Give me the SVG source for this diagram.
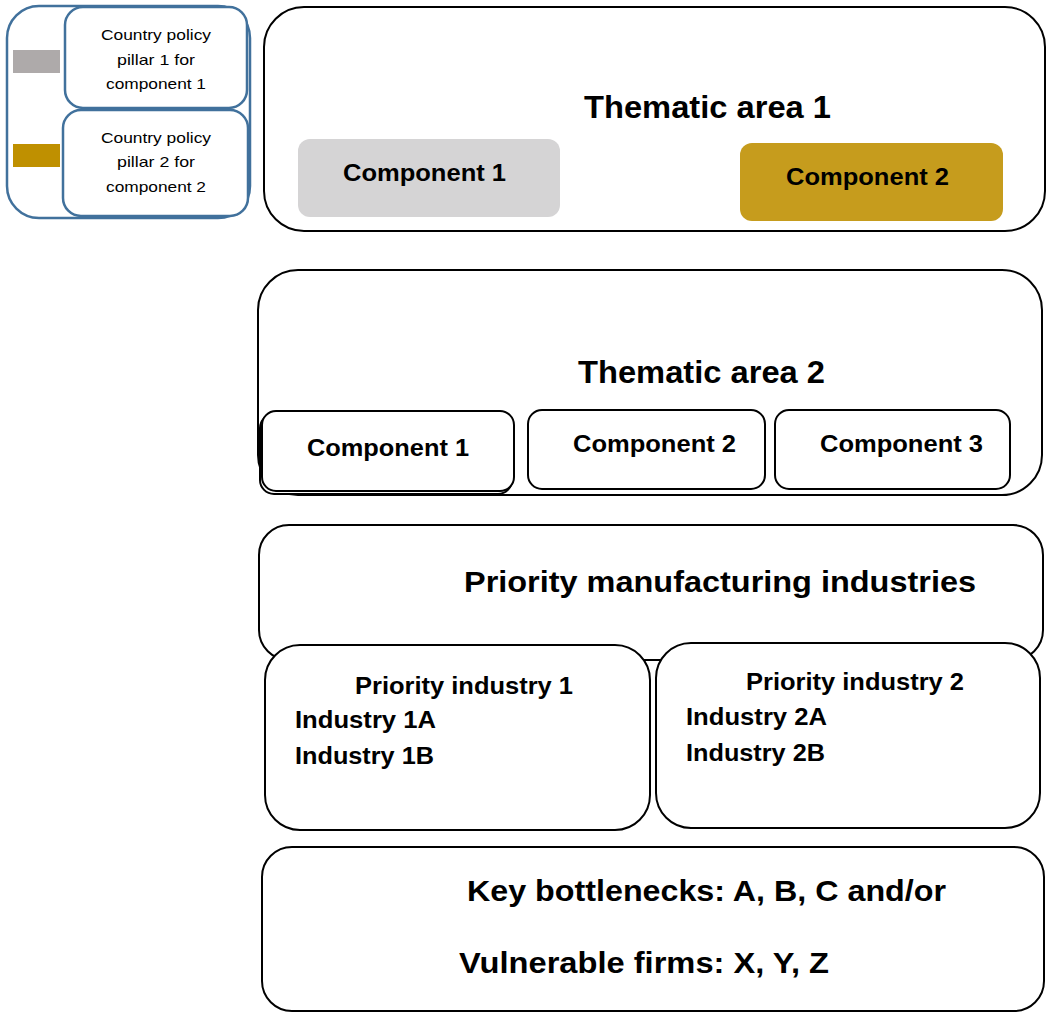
<svg xmlns="http://www.w3.org/2000/svg" width="1047" height="1013" viewBox="0 0 1047 1013">
<style>
.box{fill:#fff;stroke:#000;stroke-width:2}
.lg{fill:#fff;stroke:#41719c;stroke-width:2.5}
.b{font-family:"Liberation Sans",Arial,sans-serif;font-weight:bold;fill:#000}
.r{font-family:"Liberation Sans",Arial,sans-serif;fill:#000;font-size:15px}
</style>
<rect width="1047" height="1013" fill="#fff"/>
<g id="legend">
<rect class="lg" x="7" y="6" width="243" height="212" rx="32"/>
<rect x="13" y="50" width="47" height="23" fill="#aeaaaa"/>
<rect x="13" y="144" width="47" height="23" fill="#bf9000"/>
<rect class="lg" x="65" y="7" width="182" height="101" rx="18"/>
<rect class="lg" x="63" y="110" width="185" height="106" rx="18"/>
<text class="r" x="156" y="40" text-anchor="middle" textLength="110" lengthAdjust="spacingAndGlyphs">Country policy</text>
<text class="r" x="156" y="65" text-anchor="middle" textLength="78" lengthAdjust="spacingAndGlyphs">pillar 1 for</text>
<text class="r" x="156" y="89" text-anchor="middle" textLength="100" lengthAdjust="spacingAndGlyphs">component 1</text>
<text class="r" x="156" y="143" text-anchor="middle" textLength="110" lengthAdjust="spacingAndGlyphs">Country policy</text>
<text class="r" x="156" y="167" text-anchor="middle" textLength="78" lengthAdjust="spacingAndGlyphs">pillar 2 for</text>
<text class="r" x="156" y="192" text-anchor="middle" textLength="100" lengthAdjust="spacingAndGlyphs">component 2</text>
</g>
<g id="thematic1">
<rect class="box" x="264" y="7" width="781" height="224" rx="40"/>
<text class="b" x="584" y="118" font-size="31" textLength="247" lengthAdjust="spacingAndGlyphs">Thematic area 1</text>
</g>
<g id="t1c1">
<rect x="298" y="139" width="262" height="78" rx="12" fill="#d5d4d5"/>
<text class="b" x="343" y="181" font-size="24" textLength="163" lengthAdjust="spacingAndGlyphs">Component 1</text>
</g>
<g id="t1c2">
<rect x="740" y="143" width="263" height="78" rx="12" fill="#c69c1d"/>
<text class="b" x="786" y="185" font-size="24" textLength="163" lengthAdjust="spacingAndGlyphs">Component 2</text>
</g>
<g id="thematic2">
<rect class="box" x="258" y="270" width="784" height="225" rx="40"/>
<text class="b" x="578" y="383" font-size="31" textLength="247" lengthAdjust="spacingAndGlyphs">Thematic area 2</text>
</g>
<g id="t2c1">
<rect class="box" x="260" y="414" width="252" height="80" rx="14"/>
<rect class="box" x="262" y="411" width="252" height="80" rx="14"/>
<text class="b" x="307" y="456" font-size="23" textLength="162" lengthAdjust="spacingAndGlyphs">Component 1</text>
</g>
<g id="t2c2">
<rect class="box" x="528" y="410" width="237" height="79" rx="14"/>
<text class="b" x="573" y="452" font-size="23" textLength="163" lengthAdjust="spacingAndGlyphs">Component 2</text>
</g>
<g id="t2c3">
<rect class="box" x="775" y="410" width="235" height="79" rx="14"/>
<text class="b" x="820" y="452" font-size="23" textLength="163" lengthAdjust="spacingAndGlyphs">Component 3</text>
</g>
<g id="priority">
<rect class="box" x="259" y="525" width="784" height="135" rx="30"/>
<text class="b" x="464" y="592" font-size="30" textLength="512" lengthAdjust="spacingAndGlyphs">Priority manufacturing industries</text>
</g>
<g id="ind1">
<rect class="box" x="265" y="645" width="385" height="185" rx="35"/>
<text class="b" x="355" y="694" font-size="23" textLength="218" lengthAdjust="spacingAndGlyphs">Priority industry 1</text>
<text class="b" x="295" y="728" font-size="23" textLength="141" lengthAdjust="spacingAndGlyphs">Industry 1A</text>
<text class="b" x="295" y="764" font-size="23" textLength="139" lengthAdjust="spacingAndGlyphs">Industry 1B</text>
</g>
<g id="ind2">
<rect class="box" x="656" y="643" width="384" height="185" rx="35"/>
<text class="b" x="746" y="690" font-size="23" textLength="218" lengthAdjust="spacingAndGlyphs">Priority industry 2</text>
<text class="b" x="686" y="725" font-size="23" textLength="141" lengthAdjust="spacingAndGlyphs">Industry 2A</text>
<text class="b" x="686" y="761" font-size="23" textLength="139" lengthAdjust="spacingAndGlyphs">Industry 2B</text>
</g>
<g id="bottlenecks">
<rect class="box" x="262" y="847" width="782" height="164" rx="30"/>
<text class="b" x="467" y="901" font-size="30" textLength="479" lengthAdjust="spacingAndGlyphs">Key bottlenecks: A, B, C and/or</text>
<text class="b" x="459" y="973" font-size="30" textLength="370" lengthAdjust="spacingAndGlyphs">Vulnerable firms: X, Y, Z</text>
</g>
<g id="connectors"></g>
</svg>
